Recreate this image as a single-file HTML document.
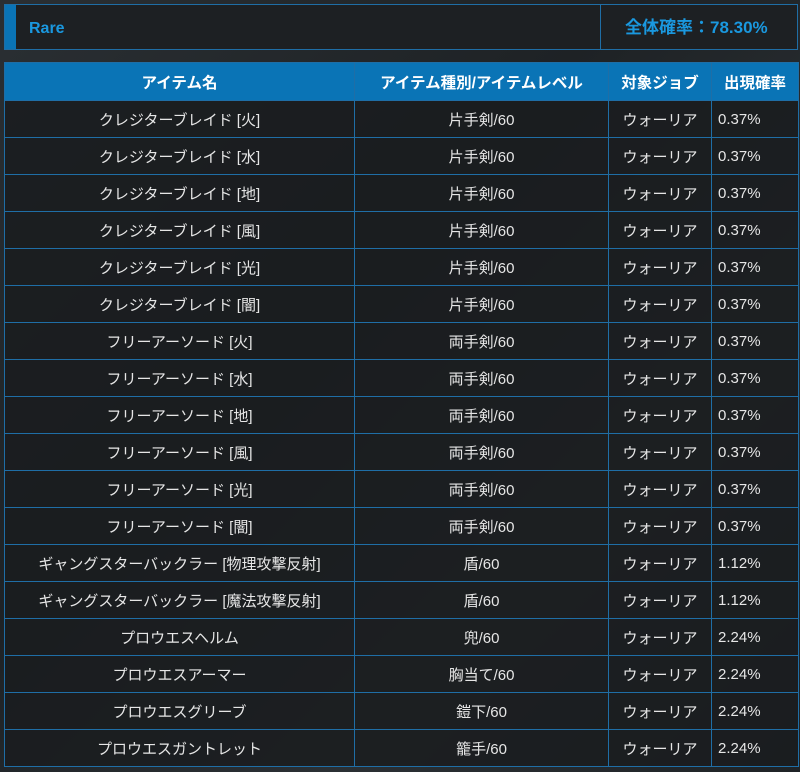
<!DOCTYPE html>
<html><head><meta charset="utf-8"><style>
html,body{margin:0;padding:0;}
body{width:800px;height:776px;background:#fff;position:relative;overflow:hidden;font-family:"Liberation Sans","Noto Sans CJK JP",sans-serif;}
.bg{position:absolute;left:0;top:0;width:800px;height:772px;background:linear-gradient(135deg,#2a2f33,#1e2225 40%,#2b3034 70%,#1f2326);}
.top{position:absolute;left:4px;top:4px;width:792px;height:44px;border:1px solid #1f6ea6;background:#1d2023;}
.bar{position:absolute;left:0;top:0;width:11px;height:44px;background:#0a74b6;}
.rare{position:absolute;left:24px;top:15px;color:#1a98df;font-weight:bold;font-size:16px;}
.div{position:absolute;left:595px;top:0;width:1px;height:44px;background:#1f6ea6;}
.tot{position:absolute;left:620px;top:8px;color:#1a98df;font-weight:bold;font-size:17px;}
table{position:absolute;left:4px;top:62px;border-collapse:collapse;table-layout:fixed;width:794px;}
td,th{border:1px solid #1f6ea6;height:36px;padding:0;font-size:15px;color:#e6e6e6;background:rgba(26,28,30,0.85);text-align:center;white-space:nowrap;vertical-align:middle;}
th{background:#0a74b6;color:#fff;font-weight:bold;height:37px;font-size:15.5px;}
td.p{text-align:left;padding-left:6px;}
</style></head><body>
<div class="bg"></div>
<div class="top"><div class="bar"></div><div class="rare">Rare</div><div class="div"></div><div class="tot">全体確率：78.30%</div></div>
<table>
<colgroup><col style="width:350px"><col style="width:254px"><col style="width:103px"><col style="width:87px"></colgroup>
<tr><th>アイテム名</th><th>アイテム種別/アイテムレベル</th><th>対象ジョブ</th><th>出現確率</th></tr>
<tr><td>クレジターブレイド [火]</td><td>片手剣/60</td><td>ウォーリア</td><td class="p">0.37%</td></tr>
<tr><td>クレジターブレイド [水]</td><td>片手剣/60</td><td>ウォーリア</td><td class="p">0.37%</td></tr>
<tr><td>クレジターブレイド [地]</td><td>片手剣/60</td><td>ウォーリア</td><td class="p">0.37%</td></tr>
<tr><td>クレジターブレイド [風]</td><td>片手剣/60</td><td>ウォーリア</td><td class="p">0.37%</td></tr>
<tr><td>クレジターブレイド [光]</td><td>片手剣/60</td><td>ウォーリア</td><td class="p">0.37%</td></tr>
<tr><td>クレジターブレイド [闇]</td><td>片手剣/60</td><td>ウォーリア</td><td class="p">0.37%</td></tr>
<tr><td>フリーアーソード [火]</td><td>両手剣/60</td><td>ウォーリア</td><td class="p">0.37%</td></tr>
<tr><td>フリーアーソード [水]</td><td>両手剣/60</td><td>ウォーリア</td><td class="p">0.37%</td></tr>
<tr><td>フリーアーソード [地]</td><td>両手剣/60</td><td>ウォーリア</td><td class="p">0.37%</td></tr>
<tr><td>フリーアーソード [風]</td><td>両手剣/60</td><td>ウォーリア</td><td class="p">0.37%</td></tr>
<tr><td>フリーアーソード [光]</td><td>両手剣/60</td><td>ウォーリア</td><td class="p">0.37%</td></tr>
<tr><td>フリーアーソード [闇]</td><td>両手剣/60</td><td>ウォーリア</td><td class="p">0.37%</td></tr>
<tr><td>ギャングスターバックラー [物理攻撃反射]</td><td>盾/60</td><td>ウォーリア</td><td class="p">1.12%</td></tr>
<tr><td>ギャングスターバックラー [魔法攻撃反射]</td><td>盾/60</td><td>ウォーリア</td><td class="p">1.12%</td></tr>
<tr><td>プロウエスヘルム</td><td>兜/60</td><td>ウォーリア</td><td class="p">2.24%</td></tr>
<tr><td>プロウエスアーマー</td><td>胸当て/60</td><td>ウォーリア</td><td class="p">2.24%</td></tr>
<tr><td>プロウエスグリーブ</td><td>鎧下/60</td><td>ウォーリア</td><td class="p">2.24%</td></tr>
<tr><td>プロウエスガントレット</td><td>籠手/60</td><td>ウォーリア</td><td class="p">2.24%</td></tr>
</table>
</body></html>
